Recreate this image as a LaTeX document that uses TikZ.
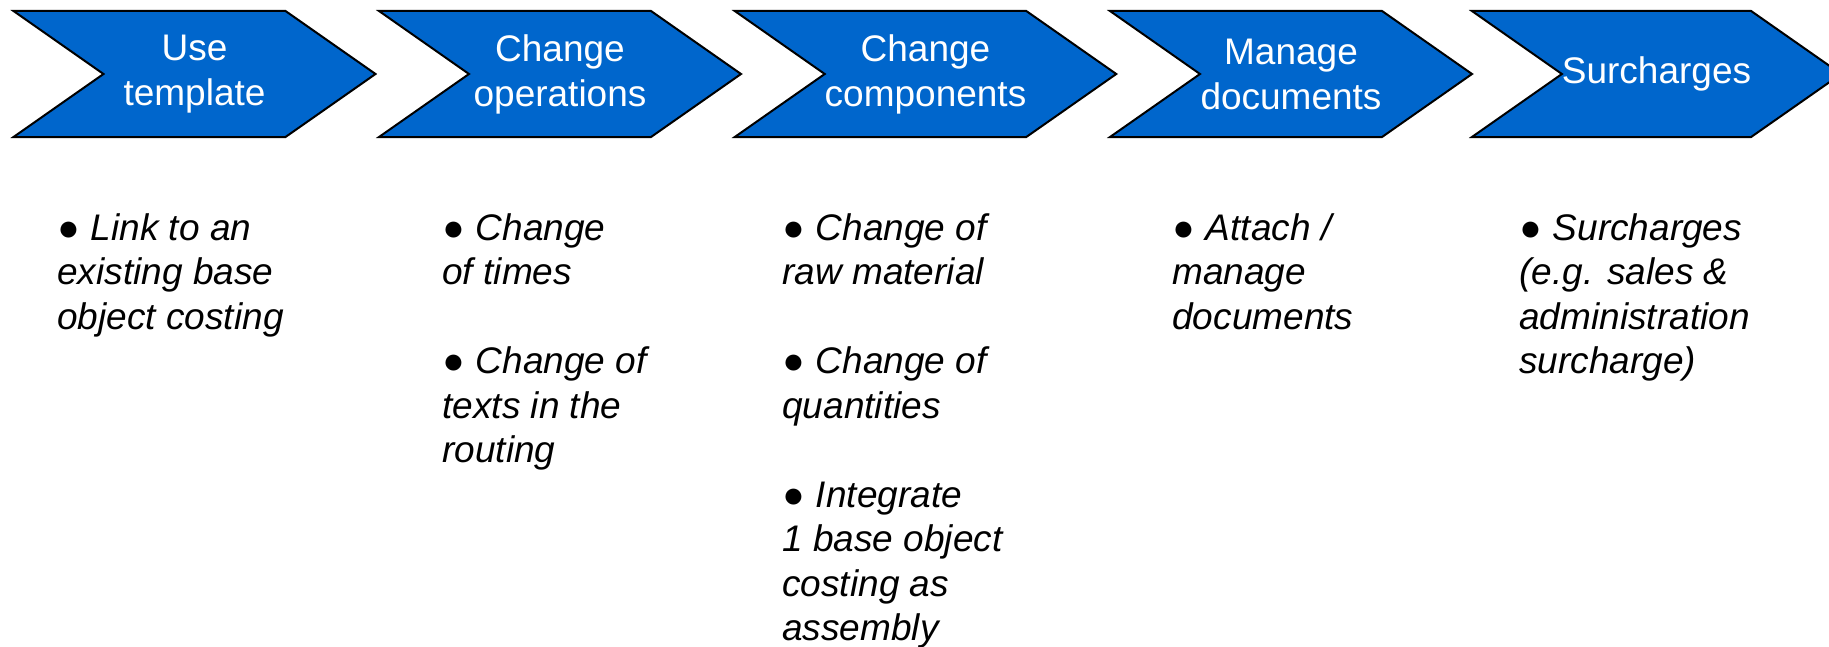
\documentclass[tikz,border=0pt]{standalone}
\usepackage{fontspec}
\setmainfont{Liberation Sans}
\usetikzlibrary{shapes.symbols,positioning}
\definecolor{stageblue}{RGB}{0,102,204}
\newcommand{\notebullet}{{\upshape ●}\hspace{0.3em}}

\begin{document}
\begin{tikzpicture}[x=0.5pt,y=-0.5pt,
            stage/.style={draw=black,line width=1pt,fill=stageblue,signal,signal from=west,signal to=east,
              signal pointer angle=70,minimum width=181pt,minimum height=63pt,inner sep=0pt,
              text=white,align=center,font=\fontsize{18.5}{22.5}\selectfont},
            notes/.style={anchor=base west,inner sep=0pt,align=left,font=\itshape\fontsize{18.5}{22.25}\selectfont}
  ]
  \useasboundingbox (0,0) rectangle (1829,647);

  % process stages
  \node[stage] (use) at (194.5,74) {Use\\template};
  \node[stage] (ops) at (560,74) {Change\\operations};
  \node[stage] (comp) at (925.5,74) {Change\\components};
  \node[stage] (docs) at (1291,74) {Manage\\documents};
  \node[stage] (surch) at (1656.5,74) {Surcharges};

  % notes below each stage (placed by the baseline of their last line)
  \node[notes] (usenote) at (57,329) {\notebullet Link to an\\existing base\\object costing};
  \node[notes] (opsnote) at (442,462.5) {\notebullet Change\\of times\\[22.25pt]\notebullet Change of\\texts in the\\routing};
  \node[notes] (compnote) at (782,640.5) {\notebullet Change of\\raw material\\[22.25pt]\notebullet Change of\\quantities\\[22.25pt]\notebullet Integrate\\1 base object\\costing as\\assembly};
  \node[notes] (docsnote) at (1172,329) {\notebullet Attach /\\manage\\documents};
  \node[notes] (surchnote) at (1519,373.5) {\notebullet Surcharges\\(e.g. sales \&\\administration\\surcharge)};

\end{tikzpicture}
\end{document}
